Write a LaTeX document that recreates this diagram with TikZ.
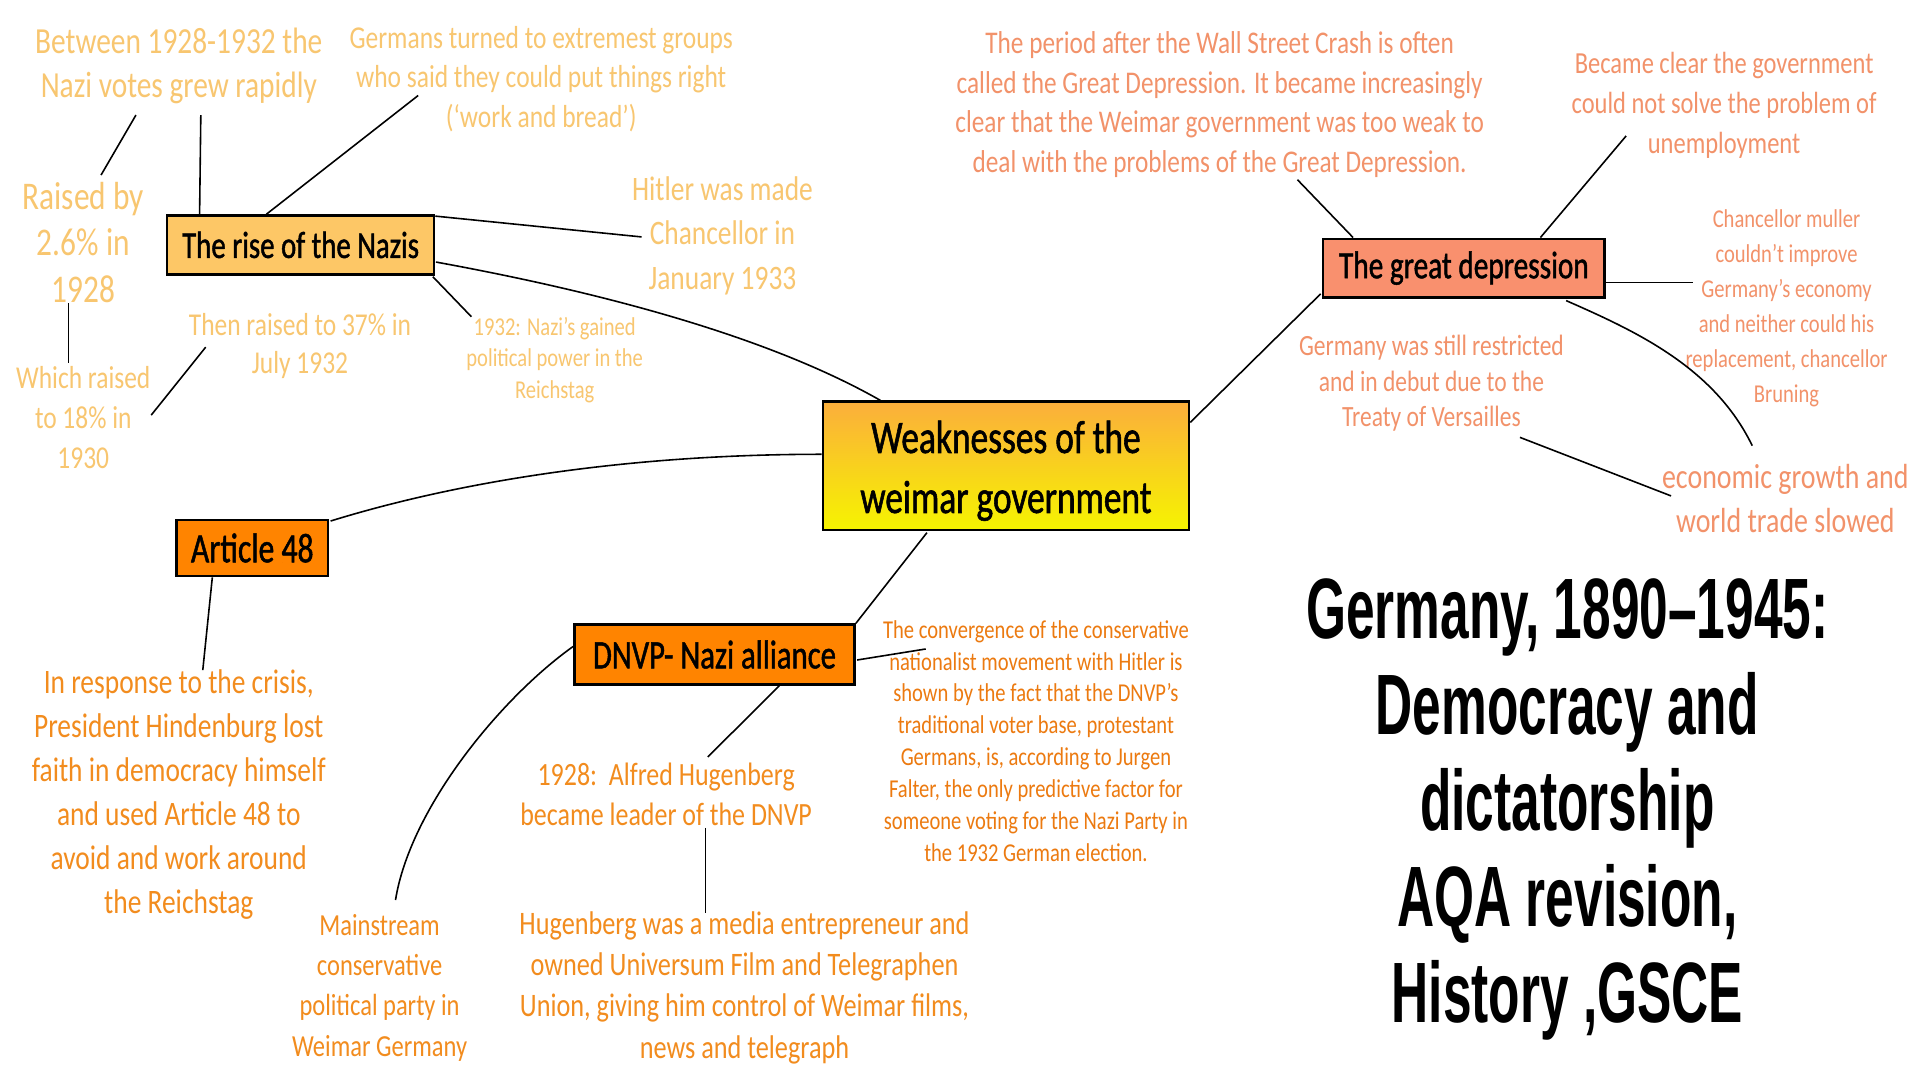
\documentclass[tikz,border=0pt]{standalone}
\usepackage{fontspec}
\usetikzlibrary{calc}
\newfontfamily\handfont[FakeStretch=0.8]{Carlito}
\newfontfamily\boxfont[FakeStretch=0.76,FakeBold=1.2]{Carlito}
\newfontfamily\titlefont[FakeStretch=0.6]{Liberation Sans}
\newcommand{\hf}[2]{\handfont\fontsize{#1}{#2}\selectfont}
\newcommand{\bxf}[2]{\boxfont\fontsize{#1}{#2}\selectfont}
\definecolor{cA}{RGB}{248,198,112}
\definecolor{cD}{RGB}{242,146,106}
\definecolor{cC}{RGB}{242,140,30}
\definecolor{cV}{RGB}{236,122,16}
\definecolor{fRise}{RGB}{253,199,102}
\definecolor{fDep}{RGB}{249,144,110}
\definecolor{fOr}{RGB}{255,132,0}
\definecolor{fTop}{RGB}{251,174,60}
\definecolor{fBot}{RGB}{246,244,0}
\begin{document}
\begin{tikzpicture}[x=1pt,y=-1pt,
  conn/.style={draw=black,line width=1.3pt},
  box/.style={draw=black,line width=2pt,inner sep=0pt,align=center,text=black},
  txt/.style={inner sep=0pt,align=center}]
\useasboundingbox[fill=white] (0,0) rectangle (1568,882);

% ---------- boxes ----------
\node[box,minimum width=299pt,minimum height=105pt,top color=fTop,bottom color=fBot] (center) at (821.5,380.5) {};
\node[txt,font=\bxf{38}{49}] (centertext) at ($(center)+(0,4)$) {Weaknesses of the\\weimar government};
\node[box,fill=fRise,minimum width=218pt,minimum height=48pt,font=\bxf{31}{32}] (rise) at (245.5,200) {The rise of the Nazis};
\node[box,fill=fDep,minimum width=230pt,minimum height=48pt,font=\bxf{31.5}{32}] (dep) at (1195.5,219) {The great depression};
\node[box,fill=fOr,minimum width=124pt,minimum height=46pt,font=\bxf{34}{32}] (art) at (206,447.5) {Article 48};
\node[box,fill=fOr,minimum width=229pt,minimum height=49pt,font=\bxf{33}{32}] (dnvp) at (583.5,534.5) {DNVP- Nazi alliance};

% ---------- rise of the Nazis texts ----------
\begin{scope}[every node/.style={txt,text=cA}]
\node[font=\hf{30}{36}] (between) at (146,54) {Between 1928-1932 the\\Nazi votes grew rapidly};
\node[font=\hf{26}{32.5}] (germans) at (442,64.5) {Germans turned to extremest groups\\who said they could put things right\\(‘work and bread’)};
\node[font=\hf{32}{38}] (raised) at (68,198) {Raised by\\2.6\% in\\1928};
\node[font=\hf{26}{33}] (which) at (68,341) {Which raised\\to 18\% in\\1930};
\node[font=\hf{26}{31}] (then) at (245,282.5) {Then raised to 37\% in\\July 1932};
\node[font=\hf{28}{36.5}] (hitler) at (590,192.5) {Hitler was made\\Chancellor in\\January 1933};
\node[font=\hf{21}{26}] (nazigain) at (453,294) {1932: Nazi’s gained\\political power in the\\Reichstag};
\end{scope}

% ---------- great depression texts ----------
\begin{scope}[every node/.style={txt,text=cD}]
\node[font=\hf{25.8}{32.3}] (period) at (996,85.5) {The period after the Wall Street Crash is often\\called the Great Depression. It became increasingly\\clear that the Weimar government was too weak to\\deal with the problems of the Great Depression.};
\node[font=\hf{25}{33}] (became) at (1408,86) {Became clear the government\\could not solve the problem of\\unemployment};
\node[font=\hf{21}{28.6}] (muller) at (1459,251.5) {Chancellor muller\\couldn’t improve\\Germany’s economy\\and neither could his\\replacement, chancellor\\Bruning};
\node[font=\hf{24}{29}] (restricted) at (1169,313) {Germany was still restricted\\and in debut due to the\\Treaty of Versailles};
\node[font=\hf{28.5}{36}] (growth) at (1458,407) {economic growth and\\world trade slowed};
\end{scope}

% ---------- bottom texts ----------
\begin{scope}[every node/.style={txt,text=cC}]
\node[font=\hf{28}{36}] (response) at (146,649) {In response to the crisis,\\President Hindenburg lost\\faith in democracy himself\\and used Article 48 to\\avoid and work around\\the Reichstag};
\node[font=\hf{25}{33}] (mainstream) at (310,806.5) {Mainstream\\conservative\\political party in\\Weimar Germany};
\node[font=\hf{26.5}{33}] (hug) at (544,648.5) {1928:\ \ Alfred Hugenberg\\became leader of the DNVP};
\node[font=\hf{26.8}{33.7}] (media) at (608,806.5) {Hugenberg was a media entrepreneur and\\owned Universum Film and Telegraphen\\Union, giving him control of Weimar films,\\news and telegraph};
\node[font=\hf{21}{26},text=cV] (converg) at (846,605) {The convergence of the conservative\\nationalist movement with Hitler is\\shown by the fact that the DNVP’s\\traditional voter base, protestant\\Germans, is, according to Jurgen\\Falter, the only predictive factor for\\someone voting for the Nazi Party in\\the 1932 German election.};
\end{scope}

% ---------- title ----------
\node[txt,font={\titlefont\bfseries\fontsize{70}{78.5}\selectfont}] (title) at (1280,661) {Germany, 1890–1945:\\Democracy and\\dictatorship\\AQA revision,\\History ,GSCE};

% ---------- connectors ----------
\draw[conn] ($(between)+(-35,40)$) -- ($(raised)+(14.5,-55)$);
\draw[conn] ($(between)+(18,40)$) -- ($(rise.north west)+(27.5,0)$);
\draw[conn] ($(germans)+(-100.5,13.5)$) -- ($(rise.north west)+(82,0)$);
\draw[conn] ($(rise.north east)+(0,1.5)$) -- ($(hitler)+(-66,1)$);
\draw[conn] ($(rise.east)+(0.5,14)$) .. controls +(115,21) and +(-100,-57) .. ($(center.north west)+(48,0)$);
\draw[conn] ($(rise.south east)+(-2,1)$) -- ($(nazigain)+(-68,-35.3)$);
\draw[conn] ($(raised)+(-12,49.5)$) -- ($(which)+(-12,-44.4)$);
\draw[conn] ($(then)+(-77,1)$) -- ($(which)+(55.5,-2)$);

\draw[conn] ($(center.west)+(0,-9.5)$) .. controls +(-152,0) and +(110,-34) .. ($(art.north east)+(1,2)$);
\draw[conn] ($(center.north east)+(0,18)$) -- ($(dep.south west)+(-1,-4)$);
\draw[conn] ($(center.south west)+(86,1)$) -- (dnvp.north east);

\draw[conn] ($(period)+(63.6,61.3)$) -- ($(dep.north west)+(25.5,0)$);
\draw[conn] ($(became)+(-80,25)$) -- ($(dep.north west)+(178.5,0)$);
\draw[conn] ($(dep.east)+(0,11.6)$) -- ($(muller)+(-76.4,-20.9)$);
\draw[conn] ($(dep.south east)+(-32.5,1.5)$) .. controls +(57,25) and +(-31,-64) .. ($(growth)+(-27,-43)$);
\draw[conn] ($(restricted)+(72.3,44.2)$) -- ($(growth)+(-93.3,-2)$);

\draw[conn] ($(art.south west)+(30.4,0)$) -- ($(response)+(19.6,-101.7)$);
\draw[conn] ($(dnvp.west)+(0,-6.5)$) .. controls +(-59,42) and +(12,-75) .. ($(mainstream)+(13,-71.5)$);
\draw[conn] ($(dnvp.south west)+(168.5,0)$) -- ($(hug)+(34,-30.3)$);
\draw[conn] ($(hug)+(32.2,27.5)$) -- ($(media)+(-31.8,-60.5)$);
\draw[conn] ($(dnvp.east)+(1,4.5)$) -- ($(converg)+(-90,-75)$);
\end{tikzpicture}
\end{document}
